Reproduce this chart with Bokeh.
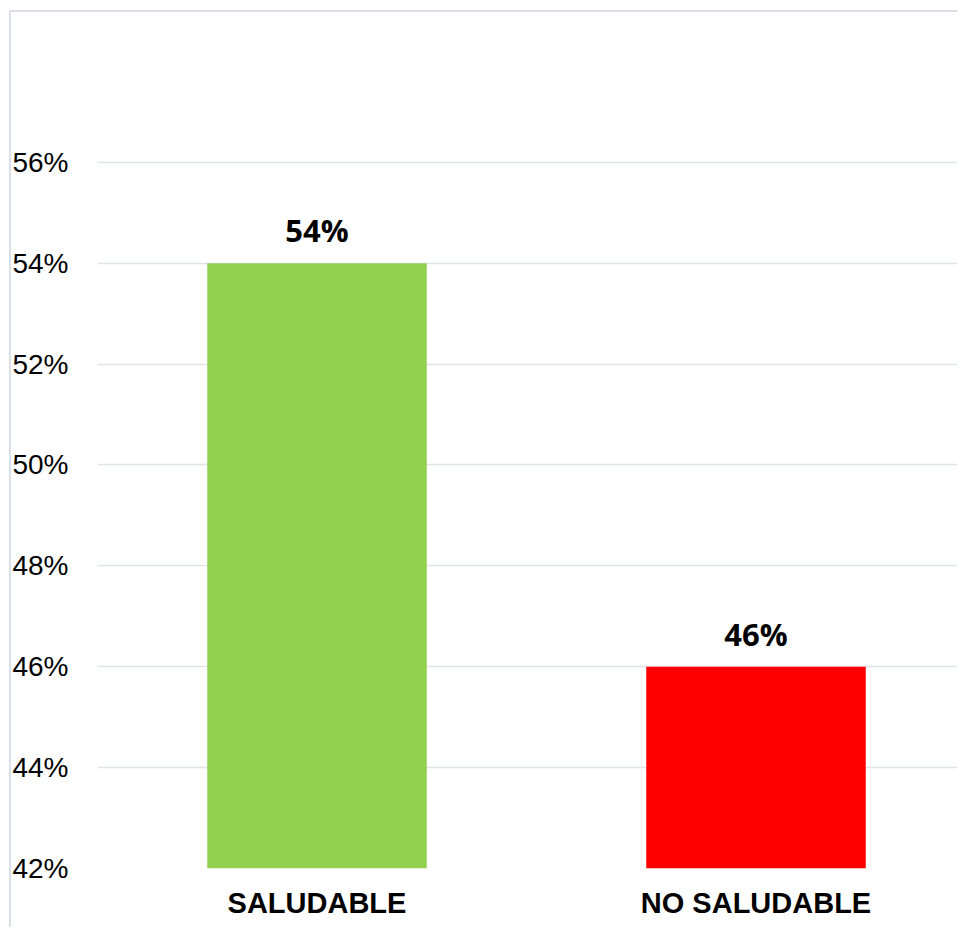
from bokeh.plotting import figure
from bokeh.models import ColumnDataSource, LabelSet, Range1d, FixedTicker, SingleIntervalTicker, PrintfTickFormatter
from bokeh.core.properties import value
from bokeh.embed import file_html
from bokeh.resources import INLINE

categories = ["SALUDABLE", "NO SALUDABLE"]
values = [54, 46]
colors = ["#92D050", "#FF0000"]
y_min, y_max = 42, 57.8

x_pos = [i + 0.5 for i in range(len(categories))]
labels = [f"{v}%" for v in values]

src = ColumnDataSource(dict(x=x_pos, top=values, color=colors, label=labels))

W, H = 957, 927
p = figure(width=W, height=H, output_backend="svg", toolbar_location=None,
           x_range=Range1d(0, 860 / 439), y_range=Range1d(y_min, y_max),
           min_border_left=97, min_border_right=0, min_border_top=71, min_border_bottom=59)
p.outline_line_color = None
p.background_fill_color = "white"
p.border_fill_alpha = 0
p.styles = {
    "background-color": "white",
    "background-image": "linear-gradient(#dadfe8, #dadfe8), linear-gradient(#dadfe8, #dadfe8)",
    "background-size": "2px 100%, 100% 2px",
    "background-position": "9px 10px, 9px 10px",
    "background-repeat": "no-repeat",
}

p.vbar(x="x", top="top", bottom=y_min, width=0.5, color="color", line_color=None, source=src)

p.add_layout(LabelSet(x="x", y="top", text="label", source=src, y_offset=21,
                      text_align="center", text_baseline="alphabetic",
                      text_font=value("Open Sans"), text_font_style="bold",
                      text_font_size="31px", text_color="black"))

p.xgrid.grid_line_color = None
p.ygrid.grid_line_color = "#dfe3ea"
p.ygrid.grid_line_width = 1.5
p.yaxis.ticker = SingleIntervalTicker(interval=2)
p.ygrid.ticker = SingleIntervalTicker(interval=2)
p.yaxis.formatter = PrintfTickFormatter(format="%d%%")
p.yaxis.major_label_text_font = "Liberation Sans"
p.yaxis.major_label_text_font_size = "28px"
p.yaxis.major_label_text_color = "black"
p.yaxis.major_label_standoff = 25
p.xaxis.ticker = FixedTicker(ticks=x_pos)
p.xaxis.major_label_overrides = {x: c for x, c in zip(x_pos, categories)}
p.xaxis.major_label_text_font = "Liberation Sans"
p.xaxis.major_label_text_font_style = "bold"
p.xaxis.major_label_text_font_size = "29px"
p.xaxis.major_label_text_color = "black"
p.xaxis.major_label_standoff = 18
for ax in (p.xaxis, p.yaxis):
    ax.axis_line_color = None
    ax.major_tick_line_color = None
    ax.minor_tick_line_color = None
    ax.major_tick_out = 0
    ax.major_tick_in = 0

open("out.html", "w").write(file_html(p, INLINE))
